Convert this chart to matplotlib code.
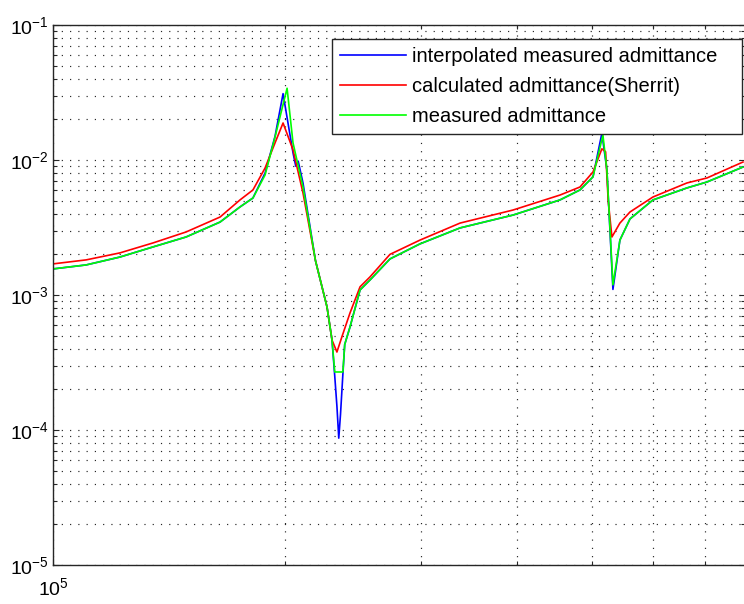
import numpy as np
import matplotlib
matplotlib.use("Agg")
import matplotlib.pyplot as plt
from matplotlib.ticker import LogLocator, LogFormatterSciNotation, NullFormatter

plt.rcParams["font.family"] = ["Liberation Sans", "DejaVu Sans"]

# measured admittance (green)
f_meas = [1.000e5, 1.104e5, 1.221e5, 1.348e5, 1.488e5, 1.647e5, 1.748e5, 1.817e5,
          1.884e5, 1.941e5, 2.012e5, 2.048e5, 2.110e5, 2.190e5, 2.267e5, 2.301e5,
          2.320e5, 2.377e5, 2.390e5, 2.428e5, 2.502e5, 2.577e5, 2.736e5, 2.992e5,
          3.373e5, 3.951e5, 4.546e5, 4.826e5, 5.017e5, 5.168e5, 5.230e5, 5.325e5,
          5.437e5, 5.603e5, 6.001e5, 6.642e5, 7.051e5, 7.852e5]
y_meas = [1.56e-3, 1.67e-3, 1.91e-3, 2.27e-3, 2.69e-3, 3.47e-3, 4.49e-3, 5.23e-3,
          7.74e-3, 1.48e-2, 3.40e-2, 1.34e-2, 6.31e-3, 1.80e-3, 8.15e-4, 4.64e-4,
          2.69e-4, 2.69e-4, 4.30e-4, 5.79e-4, 1.09e-3, 1.29e-3, 1.85e-3, 2.39e-3,
          3.14e-3, 3.91e-3, 5.06e-3, 6.00e-3, 7.50e-3, 1.53e-2, 8.43e-3, 1.19e-3,
          2.55e-3, 3.66e-3, 5.06e-3, 6.21e-3, 6.87e-3, 8.87e-3]

# interpolated measured admittance (blue)
f_interp = [1.000e5, 1.104e5, 1.221e5, 1.348e5, 1.488e5, 1.647e5, 1.748e5, 1.817e5,
            1.884e5, 1.941e5, 1.988e5, 2.048e5, 2.065e5, 2.080e5, 2.110e5, 2.190e5,
            2.267e5, 2.301e5, 2.320e5, 2.335e5, 2.348e5, 2.360e5, 2.377e5, 2.390e5,
            2.428e5, 2.502e5, 2.577e5, 2.736e5, 2.992e5, 3.373e5, 3.951e5, 4.546e5,
            4.826e5, 5.017e5, 5.152e5, 5.230e5, 5.325e5, 5.437e5, 5.603e5, 6.001e5,
            6.642e5, 7.051e5, 7.852e5]
y_interp = [1.56e-3, 1.67e-3, 1.91e-3, 2.27e-3, 2.69e-3, 3.47e-3, 4.49e-3, 5.23e-3,
            8.00e-3, 1.50e-2, 3.10e-2, 1.13e-2, 9.00e-3, 9.80e-3, 6.76e-3, 1.80e-3,
            8.15e-4, 4.64e-4, 2.50e-4, 1.50e-4, 8.70e-5, 1.30e-4, 2.60e-4, 4.30e-4,
            5.79e-4, 1.09e-3, 1.29e-3, 1.85e-3, 2.39e-3, 3.14e-3, 3.91e-3, 5.06e-3,
            6.00e-3, 7.50e-3, 1.58e-2, 8.43e-3, 1.10e-3, 2.55e-3, 3.66e-3, 5.06e-3,
            6.21e-3, 6.87e-3, 8.87e-3]

# calculated admittance, Sherrit model (red)
f_calc = [1.000e5, 1.104e5, 1.221e5, 1.348e5, 1.488e5, 1.647e5, 1.748e5, 1.817e5,
          1.884e5, 1.941e5, 1.988e5, 2.048e5, 2.110e5, 2.190e5, 2.267e5, 2.301e5,
          2.335e5, 2.370e5, 2.428e5, 2.502e5, 2.577e5, 2.736e5, 2.992e5, 3.373e5,
          3.951e5, 4.546e5, 4.826e5, 5.017e5, 5.152e5, 5.210e5, 5.250e5, 5.309e5,
          5.437e5, 5.603e5, 6.001e5, 6.642e5, 7.051e5, 7.852e5]
y_calc = [1.70e-3, 1.82e-3, 2.05e-3, 2.43e-3, 2.93e-3, 3.78e-3, 5.06e-3, 6.00e-3,
          8.72e-3, 1.34e-2, 1.88e-2, 1.19e-2, 5.70e-3, 1.80e-3, 8.15e-4, 4.64e-4,
          3.78e-4, 4.90e-4, 7.36e-4, 1.15e-3, 1.36e-3, 2.00e-3, 2.55e-3, 3.41e-3,
          4.26e-3, 5.50e-3, 6.31e-3, 8.15e-3, 1.21e-2, 1.15e-2, 5.00e-3, 2.69e-3,
          3.41e-3, 4.12e-3, 5.32e-3, 6.76e-3, 7.36e-3, 9.66e-3]

labels = ["interpolated measured admittance",
          "calculated admittance(Sherrit)",
          "measured admittance"]

fig = plt.figure(figsize=(7.44, 6.04), dpi=100)
ax = fig.add_axes([53 / 744, 39 / 604, 692 / 744, 540 / 604])

ax.loglog(f_interp, y_interp, color=(0, 0, 1), lw=1.2, label=labels[0])
ax.loglog(f_calc, y_calc, color=(1, 0, 0), lw=1.2, label=labels[1])
ax.loglog(f_meas, y_meas, color=(0, 1, 0), lw=1.2, label=labels[2])

ax.set_xlim(1e5, 7.9e5)
ax.set_ylim(1e-5, 1e-1)

for axis in (ax.xaxis, ax.yaxis):
    axis.set_major_locator(LogLocator(base=10, numticks=12))
    axis.set_minor_locator(LogLocator(base=10, subs=np.arange(2, 10), numticks=12))
    axis.set_major_formatter(LogFormatterSciNotation())
    axis.set_minor_formatter(NullFormatter())

ax.grid(which="both", linestyle=(0, (1, 6)), linewidth=0.85, color="#262626")
ax.tick_params(which="both", direction="in", top=True, right=True,
               color="#262626", labelsize=14)
ax.tick_params(which="major", length=4.5, width=0.8)
ax.tick_params(which="minor", length=3, width=0.8)
ax.tick_params(axis="y", pad=3)
ax.tick_params(axis="x", pad=9)
for sp in ax.spines.values():
    sp.set_color("#262626")
    sp.set_linewidth(1.0)

leg = ax.legend(loc="upper left", bbox_to_anchor=(0.403, 0.974, 0.5925, 0),
                mode="expand", borderaxespad=0, fancybox=False,
                edgecolor="#262626", framealpha=1, fontsize=14.5,
                handlelength=3.3, handletextpad=0.3, labelspacing=0.55,
                borderpad=0.4)
leg.get_frame().set_linewidth(1.0)

fig.savefig("out.png", dpi=100)
